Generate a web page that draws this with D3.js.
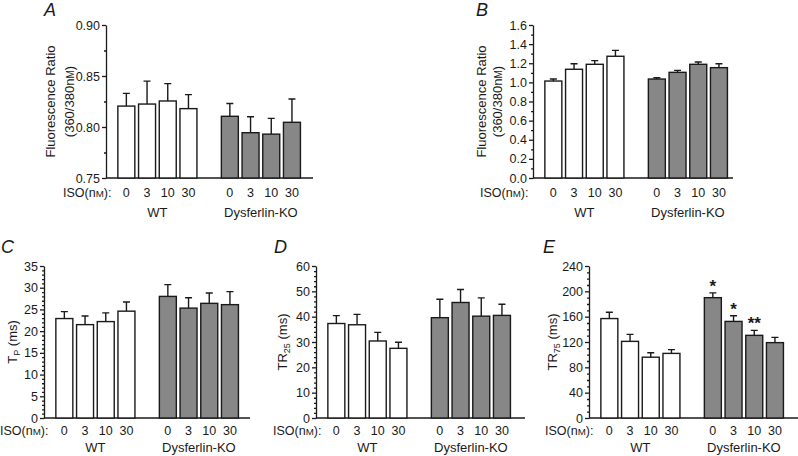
<!DOCTYPE html>
<html lang="en">
  <head>
    <meta charset="utf-8" />
    <title>Ca2+ transients – WT vs Dysferlin-KO</title>
    <style>
      body {
        margin: 0;
        background: #fff;
      }
      svg {
        font-family: 'Liberation Sans', Arial, sans-serif;
        fill: #1a1a1a;
      }
      .axis path,
      .axis line {
        stroke: #1a1a1a;
        stroke-width: 1.3;
      }
      .axis text {
        font-size: 12.5px;
        fill: #1a1a1a;
      }
      .bar {
        stroke: #1a1a1a;
        stroke-width: 1.4;
      }
      .err {
        stroke: #1a1a1a;
        stroke-width: 1.4;
        fill: none;
      }
    </style>
    <script src="https://d3js.org/d3.v7.min.js"></script>
  </head>

  <body>
    <svg width="798" height="456"></svg>

    <script>
      const doses = ['0', '3', '10', '30'];
      const groups = ['WT', 'Dysferlin-KO'];

      // panel A – resting fluorescence ratio
      const aWT = [0.8205, 0.8225, 0.8255, 0.818];
      const aWTsem = [0.0125, 0.0225, 0.017, 0.0137];
      const aKO = [0.8105, 0.7944, 0.793, 0.8046];
      const aKOsem = [0.0125, 0.0156, 0.0155, 0.0229];

      // panel B – peak fluorescence ratio
      const bWT = [1.014, 1.137, 1.189, 1.273];
      const bWTsem = [0.021, 0.058, 0.038, 0.062];
      const bKO = [1.035, 1.105, 1.189, 1.154];
      const bKOsem = [0.014, 0.021, 0.024, 0.041];

      // panel C – time to peak
      const cWT = [22.9, 21.5, 22.2, 24.6];
      const cWTsem = [1.6, 2.0, 2.0, 2.1];
      const cKO = [28.0, 25.3, 26.4, 26.1];
      const cKOsem = [2.7, 2.4, 2.4, 3.0];

      // panel D – TR25
      const dWT = [37.3, 36.8, 30.4, 27.5];
      const dWTsem = [3.1, 4.1, 3.4, 2.4];
      const dKO = [39.6, 45.6, 40.2, 40.5];
      const dKOsem = [7.3, 5.1, 7.2, 4.4];

      // panel E – TR75
      const eWT = [157, 121, 96, 102];
      const eWTsem = [10, 11, 7, 6];
      const eKO = [190, 152.5, 130.5, 119];
      const eKOsem = [7.6, 8.9, 7.9, 8.3];
      const eKOstars = ['*', '*', '**', ''];

      const svg = d3.select('svg');

      const panels = [
        {
          letter: 'A', lx: 44, ly: 16,
          x0: 106, right: 313, top: 25, bottom: 178,
          domain: [0.75, 0.9], ticks: [0.75, 0.8, 0.85, 0.9], minor: 0.025, fmt: d3.format('.2f'),
          wt: aWT, wtSem: aWTsem, ko: aKO, koSem: aKOsem,
          label: ['Fluorescence Ratio', '(360/380'], labX: [50, 69],
          isoX: 63, doseY: 197, groupY: 217,
        },
        {
          letter: 'B', lx: 476, ly: 16,
          x0: 533, right: 733, top: 25, bottom: 178,
          domain: [0, 1.6], ticks: d3.range(0, 1.61, 0.2), minor: 0.1, fmt: d3.format('.1f'),
          wt: bWT, wtSem: bWTsem, ko: bKO, koSem: bKOsem,
          label: ['Fluorescence Ratio', '(360/380'], labX: [481, 497],
          isoX: 480, doseY: 197, groupY: 217,
        },
        {
          letter: 'C', lx: 1, ly: 253,
          x0: 44, right: 250, top: 266, bottom: 418,
          domain: [0, 35], ticks: d3.range(0, 36, 5), minor: 1, fmt: d3.format('d'),
          wt: cWT, wtSem: cWTsem, ko: cKO, koSem: cKOsem,
          sub: ['T', 'P', ' (ms)'], labX: [12],
          isoX: 0, doseY: 435, groupY: 452,
        },
        {
          letter: 'D', lx: 274, ly: 253,
          x0: 316, right: 525, top: 266, bottom: 418,
          domain: [0, 60], ticks: d3.range(0, 61, 10), minor: 2, fmt: d3.format('d'),
          wt: dWT, wtSem: dWTsem, ko: dKO, koSem: dKOsem,
          sub: ['TR', '25', ' (ms)'], labX: [282],
          isoX: 273, doseY: 435, groupY: 452,
        },
        {
          letter: 'E', lx: 543, ly: 253,
          x0: 589, right: 798, top: 266, bottom: 418,
          domain: [0, 240], ticks: d3.range(0, 241, 40), minor: 10, fmt: d3.format('d'),
          wt: eWT, wtSem: eWTsem, ko: eKO, koSem: eKOsem, stars: eKOstars,
          sub: ['TR', '75', ' (ms)'], labX: [552],
          isoX: 545, doseY: 435, groupY: 452,
        },
      ];

      // nine slots: 4 WT doses, a gap, 4 KO doses
      const slots = doses
        .map((d) => 'WT-' + d)
        .concat(['gap'], doses.map((d) => 'KO-' + d));

      // nM written with a small-caps M
      function nM(sel, size) {
        sel.append('tspan').text('n');
        sel.append('tspan').style('font-size', size * 0.78 + 'px').text('M');
      }

      panels.forEach((p) => {
        const g = svg.append('g');
        const y = d3.scaleLinear().domain(p.domain).range([p.bottom, p.top]);
        const x = d3
          .scaleBand()
          .domain(slots)
          .range([p.x0 + 10, p.x0 + 10 + 9 * 20.7])
          .paddingInner(0.18)
          .paddingOuter(0.09);

        // panel letter
        g.append('text')
          .attr('x', p.lx)
          .attr('y', p.ly)
          .style('font-size', '18px')
          .style('font-style', 'italic')
          .text(p.letter);

        // minor ticks
        const minorTicks = d3
          .range(p.domain[0], p.domain[1] + 1e-9, p.minor)
          .filter((v) => !p.ticks.some((t) => Math.abs(t - v) < 1e-9));
        g.append('g')
          .attr('class', 'axis')
          .attr('transform', `translate(${p.x0},0)`)
          .call(d3.axisLeft(y).tickValues(minorTicks).tickSize(2).tickFormat(''))
          .call((s) => s.select('.domain').remove());

        // major ticks
        g.append('g')
          .attr('class', 'axis')
          .attr('transform', `translate(${p.x0},0)`)
          .call(
            d3.axisLeft(y).tickValues(p.ticks).tickSize(4).tickSizeOuter(0).tickPadding(2).tickFormat(p.fmt),
          );

        // x baseline
        g.append('line')
          .attr('x1', p.x0)
          .attr('x2', p.right)
          .attr('y1', p.bottom)
          .attr('y2', p.bottom)
          .attr('stroke', '#1a1a1a')
          .attr('stroke-width', 1.6);

        const rows = [];
        doses.forEach((d, i) => {
          rows.push({ key: 'WT-' + d, v: p.wt[i], sem: p.wtSem[i], fill: '#fff', star: '' });
          rows.push({
            key: 'KO-' + d,
            v: p.ko[i],
            sem: p.koSem[i],
            fill: '#878787',
            star: p.stars ? p.stars[i] : '',
          });
        });

        // error bars (upper half only)
        const cap = 3.5;
        g.selectAll('.err')
          .data(rows)
          .join('path')
          .attr('class', 'err')
          .attr('d', (d) => {
            const cx = x(d.key) + x.bandwidth() / 2;
            const yt = y(d.v + d.sem);
            return `M${cx},${y(d.v)}V${yt}M${cx - cap},${yt}H${cx + cap}`;
          });

        g.selectAll('.bar')
          .data(rows)
          .join('rect')
          .attr('class', 'bar')
          .attr('x', (d) => x(d.key))
          .attr('width', x.bandwidth())
          .attr('y', (d) => y(d.v))
          .attr('height', (d) => p.bottom - y(d.v))
          .attr('fill', (d) => d.fill);

        g.selectAll('.star')
          .data(rows.filter((d) => d.star))
          .join('text')
          .attr('class', 'star')
          .attr('x', (d) => x(d.key) + x.bandwidth() / 2)
          .attr('y', (d) => y(d.v + d.sem) - 1)
          .attr('text-anchor', 'middle')
          .style('font-size', '17px')
          .style('font-weight', 'bold')
          .text((d) => d.star);

        // y label
        const cy = (p.top + p.bottom) / 2;
        if (p.label) {
          g.append('text')
            .attr('transform', `translate(${p.labX[0] + 5},${cy}) rotate(-90)`)
            .attr('text-anchor', 'middle')
            .style('font-size', '13px')
            .text(p.label[0]);
          const t2 = g
            .append('text')
            .attr('transform', `translate(${p.labX[1] + 5},${cy}) rotate(-90)`)
            .attr('text-anchor', 'middle')
            .style('font-size', '13px');
          t2.append('tspan').text(p.label[1]);
          nM(t2, 13);
          t2.append('tspan').text(')');
        } else {
          const t = g
            .append('text')
            .attr('transform', `translate(${p.labX[0] + 5},${cy}) rotate(-90)`)
            .attr('text-anchor', 'middle')
            .style('font-size', '13px');
          t.append('tspan').text(p.sub[0]);
          t.append('tspan').attr('dy', 3).style('font-size', '9px').text(p.sub[1]);
          t.append('tspan').attr('dy', -3).text(p.sub[2]);
        }

        // ISO row
        const iso = g
          .append('text')
          .attr('x', p.isoX)
          .attr('y', p.doseY)
          .style('font-size', '12.5px');
        iso.append('tspan').text('ISO(');
        nM(iso, 12.5);
        iso.append('tspan').text('):');

        g.selectAll('.dose')
          .data(rows)
          .join('text')
          .attr('class', 'dose')
          .attr('x', (d) => x(d.key) + x.bandwidth() / 2)
          .attr('y', p.doseY)
          .attr('text-anchor', 'middle')
          .style('font-size', '12.5px')
          .text((d) => d.key.split('-')[1]);

        const centres = [
          (x('WT-0') + x('WT-30') + x.bandwidth()) / 2,
          (x('KO-0') + x('KO-30') + x.bandwidth()) / 2,
        ];
        g.selectAll('.grp')
          .data(groups)
          .join('text')
          .attr('class', 'grp')
          .attr('x', (d, i) => centres[i])
          .attr('y', p.groupY)
          .attr('text-anchor', 'middle')
          .style('font-size', '13px')
          .text((d) => d);
      });
    </script>
  </body>
</html>
